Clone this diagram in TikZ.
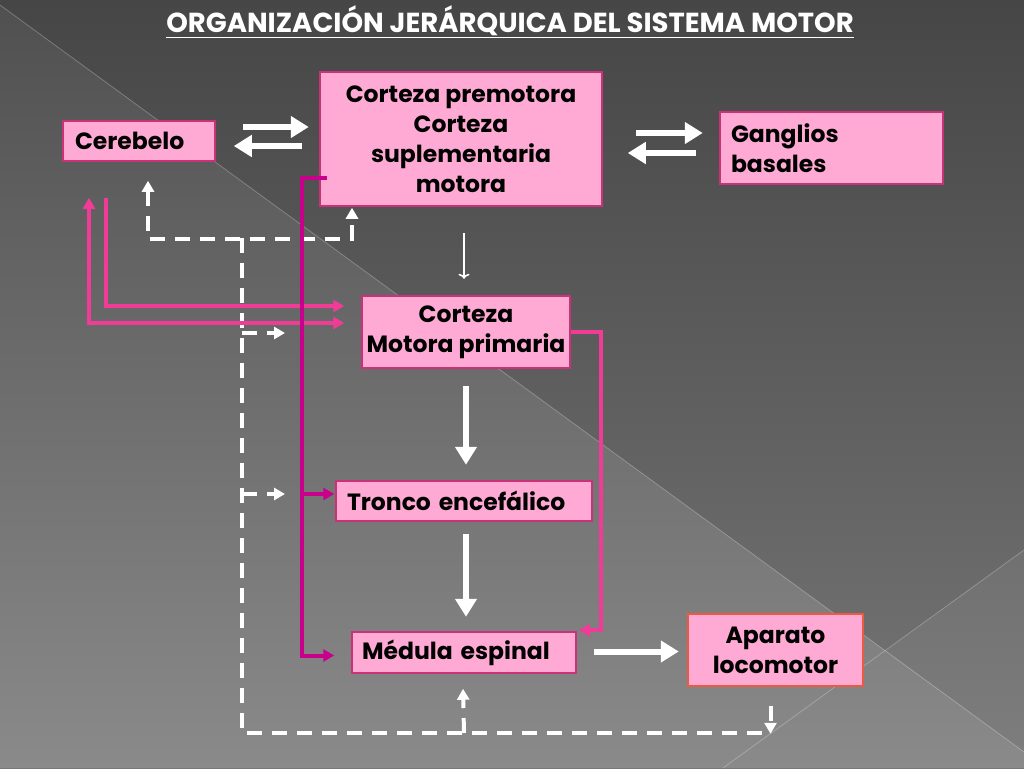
\documentclass[tikz,border=0pt]{standalone}
\usepackage{fontspec}
\setmainfont{Poppins}
\usetikzlibrary{arrows.meta,calc,positioning}

\definecolor{boxfill}{RGB}{255,170,212}
\definecolor{boxline}{RGB}{200,50,120}
\definecolor{apline}{RGB}{235,90,65}
\definecolor{pinkline}{RGB}{240,60,150}
\definecolor{magline}{RGB}{200,0,140}

\begin{document}
\begin{tikzpicture}[x=1pt,y=-1pt,
    box/.style={draw=boxline, line width=1.5pt, fill=boxfill, inner sep=0pt,
        align=center, font=\bfseries\fontsize{23.5}{30}\selectfont},
    bigarr/.style={draw=white, line width=6pt, -{Triangle[length=18pt,width=21pt]}},
    thinarr/.style={draw=white, line width=1.6pt, -{To[length=5pt,width=11pt]}},
    pinkarr/.style={draw=pinkline, line width=4pt, -{Triangle[length=11pt,width=12pt]}},
    magarr/.style={draw=magline, line width=4pt, -{Triangle[length=11pt,width=12pt]}},
    dashline/.style={draw=white, line width=4pt, dash pattern=on 15pt off 10pt},
    dasharr/.style={dashline, -{Triangle[length=11pt,width=12pt]}}
]

% Background
\useasboundingbox (0,0) rectangle (1024,768);
\shade[top color={rgb,255:red,70;green,70;blue,70}, bottom color={rgb,255:red,118;green,118;blue,118}]
    (0,0) rectangle (1024,768);
\shade[top color={rgb,255:red,80;green,80;blue,80}, bottom color={rgb,255:red,138;green,138;blue,138}]
    (0,5) -- (1024,752) -- (1024,768) -- (0,768) -- cycle;
\fill[white, opacity=0.06] (885,651) -- (1024,550) -- (1024,752) -- cycle;
\draw[white, opacity=0.25, line width=0.8pt] (0,5) -- (1024,752);
\draw[white, opacity=0.25, line width=0.8pt] (723,768) -- (1024,550);

% Title
\node[text=white, font=\bfseries\fontsize{27.5}{30}\selectfont] (title) at (510,22)
    {\underline{ORGANIZACIÓN JERÁRQUICA DEL SISTEMA MOTOR}};

% Boxes
\node[box, minimum width=282, minimum height=134] (premot) at (461,139)
    {Corteza premotora\\Corteza\\suplementaria\\motora};
\node[box, align=left, text width=128, inner xsep=12, minimum height=40] (cereb) at (139,141)
    {Cerebelo};
\node[box, align=left, text width=201, inner xsep=11, minimum height=72] (ganglios) at (831.5,148)
    {Ganglios\\basales};
\node[box, minimum width=208, minimum height=72] (primaria) at (466,332)
    {Corteza\\Motora primaria};
\node[box, align=left, text width=234, inner xsep=11, minimum height=40] (tronco) at (464,501)
    {Tronco encefálico};
\node[box, align=left, text width=204, inner xsep=10, minimum height=41] (medula) at (464,652.5)
    {Médula espinal};
\node[box, draw=apline, minimum width=175, minimum height=72] (aparato) at (775.5,650)
    {Aparato\\locomotor};

% Dashed feedback
\coordinate (spine) at (242,238);
\draw[dasharr, {Triangle[length=11pt,width=12pt]}-{Triangle[length=11pt,width=12pt]}]
    ($(cereb.south)+(9,19)$) -- ++(0,58) -| ($(premot.south)+(-109,1)$);
\draw[dashline] (spine) |- (770,733);
\draw[dasharr] ($(spine |- primaria.west)+(0,1)$) -- ++(43,0);
\draw[dasharr] ($(spine |- tronco.west)+(0,-7)$) -- ++(43,0);
\draw[dasharr] (medula.south |- 0,733) -- ($(medula.south)+(-1,15)$);
\draw[dasharr] ($(aparato.south)+(-5,19)$) -- ++(0,28);

% White arrows
\draw[bigarr] ($(cereb.east)+(27,-14)$) -- ++(66,0);
\draw[bigarr] ($(cereb.east)+(86,5)$) -- ++(-68,0);
\draw[bigarr] ($(premot.east)+(33,-6)$) -- ++(67,0);
\draw[bigarr] ($(premot.east)+(93,14)$) -- ++(-68,0);
\draw[thinarr] ($(premot.south)+(3,26)$) -- ++(0,46);
\draw[bigarr] ($(primaria.south)+(0,17)$) -- ++(0,79);
\draw[bigarr] ($(tronco.south)+(2,12)$) -- ++(0,83);
\draw[bigarr] ($(medula.east)+(17,-1)$) -- ++(85,0);

% Pink paths
\draw[pinkarr] ($(cereb.south)+(-33,36)$) |- ($(primaria.west)+(-17,-26)$);
\draw[pinkarr, {Triangle[length=11pt,width=12pt]}-{Triangle[length=11pt,width=12pt]}]
    ($(cereb.south)+(-50,36)$) |- ($(primaria.west)+(-17,-9)$);
\draw[pinkarr] (primaria.east) -- ++(30,0) |- ($(medula.north east)+(2,-1)$);

% Magenta path
\coordinate (mtop) at ($(premot.west)+(-17,39)$);
\draw[magarr] ($(premot.west)+(8,39)$) -- (mtop) |- ($(medula.west)+(-17,3)$);
\draw[magarr] (mtop |- tronco.west) ++(0,-7) -- ($(tronco.west)+(-1,-7)$);

\end{tikzpicture}
\end{document}
